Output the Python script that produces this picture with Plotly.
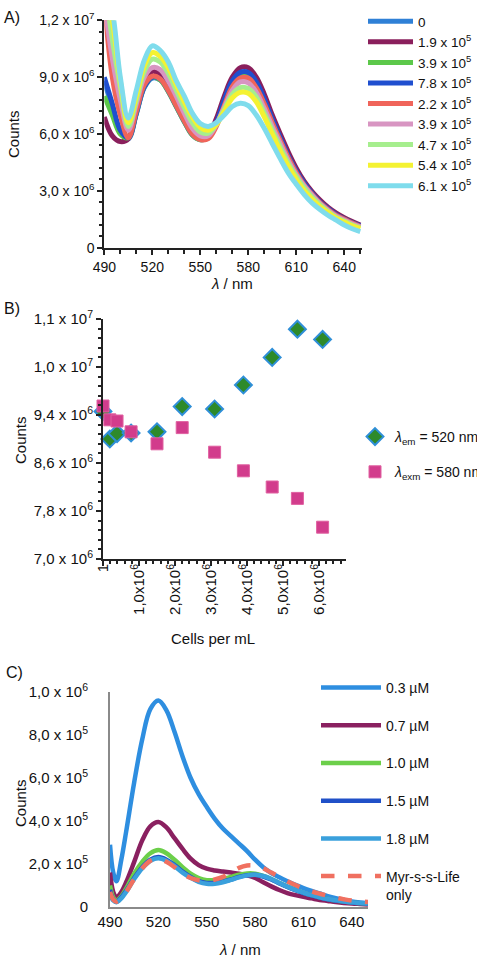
import plotly.graph_objects as go

# ---------------- Panel A data ----------------
wl_a = [490, 495, 500, 505, 510, 515, 520, 525, 530, 535, 540, 545, 550, 555, 560, 565,
        570, 575, 580, 585, 590, 595, 600, 605, 610, 615, 620, 625, 630, 635, 640, 645, 650]
a_labels = ["0", "1.9 x 10<sup>5</sup>", "3.9 x 10<sup>5</sup>", "7.8 x 10<sup>5</sup>",
            "2.2 x 10<sup>5</sup>", "3.9 x 10<sup>5</sup>", "4.7 x 10<sup>5</sup>",
            "5.4 x 10<sup>5</sup>", "6.1 x 10<sup>5</sup>"]
a_colors = ["#2f80d6", "#8a1f5c", "#5cc84a", "#1f4fcf", "#f0645a", "#d895c2", "#a6ee8e", "#f4f232", "#7fdcec"]
a_0 = [8.8, 7.4, 6.1, 5.75, 7.05, 8.45, 8.95, 8.85, 8.25, 7.45, 6.65, 5.95, 5.7, 5.8, 6.55, 7.7,
       8.7, 9.15, 9.15, 8.65, 7.8, 6.75, 5.75, 4.82, 4.02, 3.38, 2.83, 2.39, 2.04, 1.74, 1.51, 1.31, 1.14]
a_19 = [6.9, 5.9, 5.6, 5.75, 7.2, 8.7, 9.3, 9.15, 8.55, 7.7, 6.85, 6.1, 5.8, 5.95, 6.8, 8.0,
        9.0, 9.5, 9.5, 9.0, 8.1, 7.0, 6.0, 5.05, 4.2, 3.5, 2.95, 2.5, 2.12, 1.82, 1.58, 1.38, 1.2]
a_39 = [8.0, 7.0, 6.0, 5.8, 7.1, 8.5, 9.0, 8.85, 8.25, 7.45, 6.65, 5.95, 5.7, 5.8, 6.5, 7.6,
        8.6, 9.05, 9.05, 8.55, 7.7, 6.7, 5.7, 4.8, 4.0, 3.35, 2.82, 2.38, 2.02, 1.72, 1.5, 1.3, 1.13]
a_78 = [9.0, 7.6, 6.2, 5.8, 7.1, 8.5, 9.0, 8.9, 8.3, 7.5, 6.7, 6.0, 5.75, 5.85, 6.6, 7.8,
        8.8, 9.25, 9.25, 8.75, 7.85, 6.8, 5.8, 4.85, 4.05, 3.4, 2.85, 2.4, 2.05, 1.75, 1.52, 1.32, 1.15]
a_22 = [13.0, 9.0, 7.0, 5.8, 7.2, 8.6, 9.05, 8.9, 8.3, 7.5, 6.7, 6.0, 5.7, 5.75, 6.4, 7.5,
        8.5, 8.95, 8.95, 8.45, 7.6, 6.6, 5.65, 4.75, 3.95, 3.3, 2.8, 2.35, 2.0, 1.7, 1.5, 1.3, 1.12]
a_39b = [13.0, 10.0, 7.8, 6.2, 7.6, 9.0, 9.5, 9.4, 8.8, 8.0, 7.1, 6.3, 5.9, 5.9, 6.5, 7.4,
         8.3, 8.75, 8.7, 8.2, 7.35, 6.4, 5.5, 4.6, 3.85, 3.25, 2.75, 2.3, 1.95, 1.65, 1.45, 1.25, 1.1]
a_47 = [14.0, 11.0, 8.5, 6.4, 7.8, 9.3, 9.95, 9.8, 9.2, 8.3, 7.4, 6.6, 6.1, 6.05, 6.5, 7.3,
        8.1, 8.45, 8.4, 7.95, 7.1, 6.2, 5.3, 4.45, 3.75, 3.15, 2.65, 2.25, 1.9, 1.6, 1.4, 1.2, 1.05]
a_54 = [14.0, 12.0, 8.8, 6.6, 8.0, 9.6, 10.3, 10.1, 9.5, 8.6, 7.7, 6.9, 6.35, 6.2, 6.5, 7.2,
        7.9, 8.2, 8.15, 7.7, 6.9, 6.0, 5.1, 4.3, 3.6, 3.0, 2.55, 2.15, 1.85, 1.55, 1.35, 1.15, 1.0]
a_61 = [14.0, 12.5, 9.0, 6.85, 8.3, 9.9, 10.65, 10.4, 9.8, 8.8, 8.0, 7.1, 6.55, 6.4, 6.6, 7.0,
        7.45, 7.62, 7.5, 7.0, 6.3, 5.5, 4.7, 3.95, 3.35, 2.8, 2.35, 2.0, 1.7, 1.45, 1.2, 1.0, 0.85]
a_series = [a_0, a_19, a_39, a_78, a_22, a_39b, a_47, a_54, a_61]

# ---------------- Panel B data ----------------
cells = [1, 1.9e5, 3.9e5, 7.8e5, 1.5e6, 2.2e6, 3.1e6, 3.9e6, 4.7e6, 5.4e6, 6.1e6]
em_520 = [9.46e6, 9.0e6, 9.09e6, 9.1e6, 9.12e6, 9.54e6, 9.5e6, 9.9e6, 1.036e7, 1.083e7, 1.066e7]
exm_580 = [9.55e6, 9.32e6, 9.3e6, 9.12e6, 8.92e6, 9.19e6, 8.78e6, 8.47e6, 8.2e6, 8.01e6, 7.53e6]
b_xticks = [0, 1e6, 2e6, 3e6, 4e6, 5e6, 6e6]
b_xtext = ["1", "1,0x10<sup>6</sup>", "2,0x10<sup>6</sup>", "3,0x10<sup>6</sup>",
           "4,0x10<sup>6</sup>", "5,0x10<sup>6</sup>", "6,0x10<sup>6</sup>"]
b_yticks = [7.0e6, 7.8e6, 8.6e6, 9.4e6, 1.02e7, 1.1e7]
b_ytext = ["7,0 x 10<sup>6</sup>", "7,8 x 10<sup>6</sup>", "8,6 x 10<sup>6</sup>",
           "9,4 x 10<sup>6</sup>", "1,0 x 10<sup>7</sup>", "1,1 x 10<sup>7</sup>"]

# ---------------- Panel C data ----------------
wl_c = [490, 492, 494, 497, 500, 505, 510, 515, 520, 525, 530, 535, 540, 545, 550, 555, 560,
        565, 570, 575, 580, 585, 590, 595, 600, 605, 610, 615, 620, 625, 630, 635, 640, 645, 650]
c_labels = ["0.3 µM", "0.7 µM", "1.0 µM", "1.5 µM", "1.8 µM", "Myr-s-s-Life<br>only"]
c_colors = ["#2e8ee0", "#8a2060", "#6ccf4a", "#2050c8", "#3aa0dc", "#f07060"]
c_03 = [2.9e5, 1.6e5, 1.2e5, 2.2e5, 3.5e5, 5.8e5, 7.8e5, 9.2e5, 9.6e5, 9.15e5, 8.15e5, 7.0e5, 6.0e5,
        5.25e5, 4.65e5, 4.1e5, 3.65e5, 3.3e5, 2.95e5, 2.6e5, 2.2e5, 1.85e5, 1.58e5, 1.38e5, 1.2e5,
        1.03e5, 8.8e4, 7.5e4, 6.3e4, 5.1e4, 4.1e4, 3.3e4, 2.6e4, 2.1e4, 1.7e4]
c_07 = [1.6e5, 7e4, 4.5e4, 7e4, 1.15e5, 2.1e5, 3.1e5, 3.75e5, 3.95e5, 3.7e5, 3.2e5, 2.7e5, 2.25e5,
        1.95e5, 1.78e5, 1.7e5, 1.65e5, 1.6e5, 1.55e5, 1.47e5, 1.35e5, 1.15e5, 9.6e4, 7.9e4, 6.5e4,
        5.5e4, 4.7e4, 4.0e4, 3.3e4, 2.8e4, 2.3e4, 1.9e4, 1.6e4, 1.4e4, 1.2e4]
c_10 = [1.0e5, 4.5e4, 3e4, 5e4, 8.5e4, 1.55e5, 2.1e5, 2.5e5, 2.65e5, 2.5e5, 2.2e5, 1.85e5, 1.55e5,
        1.35e5, 1.25e5, 1.25e5, 1.3e5, 1.4e5, 1.5e5, 1.56e5, 1.55e5, 1.45e5, 1.3e5, 1.12e5, 9.5e4,
        8e4, 6.6e4, 5.5e4, 4.5e4, 3.7e4, 3.0e4, 2.5e4, 2.1e4, 1.8e4, 1.5e4]
c_15 = [8e4, 3.5e4, 2.5e4, 4.5e4, 7.5e4, 1.35e5, 1.85e5, 2.2e5, 2.32e5, 2.2e5, 1.95e5, 1.65e5, 1.4e5,
        1.2e5, 1.12e5, 1.12e5, 1.18e5, 1.28e5, 1.4e5, 1.48e5, 1.5e5, 1.42e5, 1.28e5, 1.1e5, 9.3e4,
        7.8e4, 6.5e4, 5.4e4, 4.4e4, 3.6e4, 3.0e4, 2.5e4, 2.1e4, 1.8e4, 1.5e4]
c_18 = [6e4, 3e4, 2.2e4, 4e4, 7e4, 1.3e5, 1.8e5, 2.15e5, 2.27e5, 2.15e5, 1.9e5, 1.6e5, 1.36e5,
        1.17e5, 1.08e5, 1.08e5, 1.15e5, 1.26e5, 1.38e5, 1.47e5, 1.5e5, 1.44e5, 1.3e5, 1.12e5, 9.5e4,
        8e4, 6.7e4, 5.5e4, 4.5e4, 3.7e4, 3.1e4, 2.6e4, 2.2e4, 1.9e4, 1.6e4]
c_myr = [7e4, 3.5e4, 2.5e4, 4e4, 7e4, 1.3e5, 1.8e5, 2.15e5, 2.25e5, 2.1e5, 1.85e5, 1.55e5, 1.35e5,
         1.24e5, 1.22e5, 1.28e5, 1.4e5, 1.6e5, 1.82e5, 1.93e5, 1.92e5, 1.8e5, 1.6e5, 1.4e5, 1.2e5,
         1.02e5, 8.6e4, 7.3e4, 6.2e4, 5.2e4, 4.3e4, 3.6e4, 3.0e4, 2.6e4, 2.3e4]
c_series = [c_03, c_07, c_10, c_15, c_18, c_myr]
c_yticks = [0, 2e5, 4e5, 6e5, 8e5, 1e6]
c_ytext = ["0", "2,0 x 10<sup>5</sup>", "4,0 x 10<sup>5</sup>", "6,0 x 10<sup>5</sup>",
           "8,0 x 10<sup>5</sup>", "1,0 x 10<sup>6</sup>"]
a_yticks = [0, 3e6, 6e6, 9e6, 1.2e7]
a_ytext = ["0", "3,0 x 10<sup>6</sup>", "6,0 x 10<sup>6</sup>", "9,0 x 10<sup>6</sup>", "1,2 x 10<sup>7</sup>"]
wl_ticks = [490, 520, 550, 580, 610, 640]

W, H = 477, 957
FONT = "Liberation Sans, Arial, sans-serif"

def px(x):
    return x / W

def py(y):
    return 1 - y / H

fig = go.Figure()

for lab, col, ys in zip(a_labels, a_colors, a_series):
    fig.add_trace(go.Scatter(x=wl_a, y=[v * 1e6 for v in ys], mode="lines", name=lab,
                             line=dict(color=col, width=5, shape="spline"),
                             xaxis="x", yaxis="y", legend="legend"))

fig.add_trace(go.Scatter(x=cells, y=em_520, mode="markers",
                         name="<i>λ</i><sub>em</sub> = 520 nm",
                         marker=dict(symbol="diamond", size=13, color="#2e8a2a",
                                     line=dict(color="#2f8fd8", width=2)),
                         cliponaxis=False, xaxis="x2", yaxis="y2", legend="legend2",
                         legendgroup="g1"))
fig.add_trace(go.Scatter(x=cells, y=exm_580, mode="markers",
                         name="<i>λ</i><sub>exm</sub> = 580 nm",
                         marker=dict(symbol="square", size=12, color="#d23c8c",
                                     line=dict(color="#e060a0", width=1)),
                         cliponaxis=False, xaxis="x2", yaxis="y2", legend="legend2",
                         legendgroup="g2"))

for i, (lab, col, ys) in enumerate(zip(c_labels, c_colors, c_series)):
    dash = "dash" if i == 5 else "solid"
    fig.add_trace(go.Scatter(x=wl_c, y=ys, mode="lines", name=lab,
                             line=dict(color=col, width=4.5, shape="spline", dash=dash),
                             xaxis="x3", yaxis="y3", legend="legend3", legendgroup="c%d" % i))

axis_common = dict(showgrid=False, zeroline=False, showline=True, linewidth=2, automargin=False,
                   linecolor="#222", ticks="outside", tickcolor="#222", tickwidth=2,
                   tickfont=dict(family=FONT, size=14, color="#111"))

fig.update_layout(
    width=W, height=H, margin=dict(l=0, r=0, t=0, b=0, pad=0, autoexpand=False),
    paper_bgcolor="white", plot_bgcolor="white",
    font=dict(family=FONT, color="#111"),
    xaxis=dict(domain=[px(104.3), px(361.7)], range=[490, 650.9], anchor="y",
               tickmode="array", tickvals=wl_ticks, ticklen=5,
               minor=dict(tickmode="linear", tick0=490, dtick=10, ticks="outside", ticklen=4,
                          tickcolor="#222"),
               **axis_common),
    yaxis=dict(domain=[py(247.7), py(20.3)], range=[0, 1.2e7], anchor="x",
               tickmode="array", tickvals=a_yticks, ticktext=a_ytext, ticklen=5,
               minor=dict(tickmode="linear", tick0=0, dtick=6e5, ticks="outside", ticklen=3,
                          tickcolor="#222"),
               **axis_common),
    xaxis2=dict(domain=[px(103), px(346)], range=[0, 6.75e6], anchor="y2",
                tickmode="array", tickvals=b_xticks, ticktext=b_xtext, tickangle=-90, ticklen=5,
                ticklabelstandoff=-8,
                minor=dict(tickmode="linear", tick0=0, dtick=2e5, ticks="outside", ticklen=3,
                           tickcolor="#222"),
                **{**axis_common, "tickfont": dict(family=FONT, size=15, color="#111")}),
    yaxis2=dict(domain=[py(559), py(319)], range=[7.0e6, 1.1e7], anchor="x2",
                tickmode="array", tickvals=b_yticks, ticktext=b_ytext, ticklen=5,
                minor=dict(tickmode="linear", tick0=7.0e6, dtick=1.6e5, ticks="outside",
                           ticklen=3, tickcolor="#222"),
                **{**axis_common, "tickfont": dict(family=FONT, size=15, color="#111")}),
    xaxis3=dict(domain=[px(110), px(368)], range=[490, 650], anchor="y3", automargin=False,
                tickmode="array", tickvals=wl_ticks, showgrid=False, zeroline=False,
                showline=True, linewidth=2, linecolor="#8a8a8a", ticks="",
                ticklabelstandoff=0, tickfont=dict(family=FONT, size=15, color="#111")),
    yaxis3=dict(domain=[py(907), py(692)], range=[0, 1.0e6], anchor="x3", automargin=False,
                tickmode="array", tickvals=c_yticks, ticktext=c_ytext, showgrid=False,
                zeroline=False, showline=True, linewidth=2, linecolor="#8a8a8a", ticks="",
                ticklabelstandoff=17, tickfont=dict(family=FONT, size=15, color="#111")),
    legend=dict(x=px(363), y=py(6), xanchor="left", yanchor="top", bgcolor="rgba(0,0,0,0)",
                font=dict(family=FONT, size=13.5, color="#111"), itemwidth=45,
                tracegroupgap=0),
    legend2=dict(x=px(355), y=py(421), xanchor="left", yanchor="top", bgcolor="rgba(0,0,0,0)",
                 font=dict(family=FONT, size=14, color="#111"), tracegroupgap=14),
    legend3=dict(x=px(316), y=py(672), xanchor="left", yanchor="top", bgcolor="rgba(0,0,0,0)",
                 font=dict(family=FONT, size=14, color="#111"), tracegroupgap=16.5,
                 itemwidth=60, valign="top"),
    showlegend=True,
)

ann = dict(font=dict(family=FONT, size=15, color="#111"), showarrow=False, xref="paper", yref="paper")
big = dict(family=FONT, size=16, color="#111")
fig.add_annotation(text="A)", x=px(2), y=py(18), xanchor="left", yanchor="middle",
                   **{**ann, "font": big})
fig.add_annotation(text="B)", x=px(2), y=py(308), xanchor="left", yanchor="middle",
                   **{**ann, "font": big})
fig.add_annotation(text="C)", x=px(4), y=py(672), xanchor="left", yanchor="middle",
                   **{**ann, "font": big})
fig.add_annotation(text="Counts", textangle=-90, x=px(13), y=py(134), xanchor="center",
                   yanchor="middle", **ann)
fig.add_annotation(text="Counts", textangle=-90, x=px(20), y=py(440), xanchor="center",
                   yanchor="middle", **ann)
fig.add_annotation(text="Counts", textangle=-90, x=px(20), y=py(803), xanchor="center",
                   yanchor="middle", **ann)
fig.add_annotation(text="<i>λ</i> / nm", x=px(232), y=py(284), xanchor="center",
                   yanchor="middle", **ann)
fig.add_annotation(text="Cells per mL", x=px(213), y=py(638), xanchor="center",
                   yanchor="middle", **ann)
fig.add_annotation(text="<i>λ</i> / nm", x=px(240), y=py(949), xanchor="center",
                   yanchor="middle", **ann)

fig.write_html("out.html", config={"displayModeBar": False},
               post_script="document.body.style.margin='0';document.body.style.overflow='hidden';")
